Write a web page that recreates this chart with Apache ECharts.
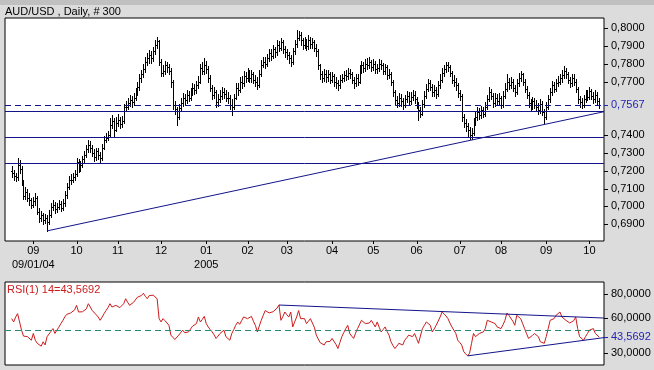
<!DOCTYPE html>
<html><head><meta charset="utf-8">
<script src="https://cdn.jsdelivr.net/npm/echarts@6/dist/echarts.min.js"></script>
<style>html,body{margin:0;padding:0;background:#dcdcdc;overflow:hidden}#c{width:654px;height:370px}</style>
</head><body><div id="c"></div><script>
// ---- data (prices in pips, i.e. x 1/10000) ----
const openPips=[7200,7188,7172,7165,7235,7210,7137,7059,7082,7050,
7035,7008,7030,7048,6970,6936,6950,6925,6936,6913,
6950,6995,7010,6985,6997,7015,6990,7020,7064,7110,
7148,7150,7165,7180,7249,7215,7232,7265,7290,7320,
7345,7330,7300,7275,7310,7289,7270,7330,7373,7385,
7400,7455,7480,7430,7470,7485,7460,7478,7557,7560,
7580,7597,7585,7610,7640,7670,7720,7740,7770,7810,
7830,7850,7830,7870,7905,7925,7810,7750,7760,7790,
7780,7760,7700,7569,7545,7500,7550,7580,7608,7595,
7625,7610,7640,7664,7650,7680,7700,7776,7760,7793,
7770,7720,7664,7625,7640,7585,7600,7620,7641,7630,
7610,7608,7570,7560,7610,7664,7650,7700,7690,7730,
7720,7748,7720,7740,7710,7700,7681,7740,7793,7810,
7800,7830,7860,7845,7880,7865,7905,7890,7920,7880,
7865,7850,7830,7810,7870,7910,7944,7960,7930,7905,
7920,7900,7935,7910,7920,7890,7870,7790,7740,7720,
7745,7725,7740,7710,7730,7700,7690,7680,7710,7720,
7735,7730,7748,7740,7710,7690,7720,7700,7765,7790,
7775,7800,7793,7810,7780,7800,7770,7776,7800,7790,
7760,7780,7737,7745,7700,7640,7597,7580,7610,7590,
7570,7600,7620,7590,7613,7625,7600,7570,7540,7520,
7575,7620,7660,7690,7670,7640,7653,7630,7680,7710,
7748,7770,7793,7780,7750,7710,7700,7680,7636,7620,
7500,7470,7450,7428,7400,7410,7470,7500,7530,7510,
7540,7520,7560,7600,7641,7620,7580,7610,7590,7608,
7570,7620,7660,7697,7680,7700,7664,7640,7690,7720,
7740,7700,7660,7625,7580,7560,7590,7570,7557,7540,
7575,7530,7500,7560,7600,7640,7680,7660,7690,7700,
7720,7737,7760,7740,7710,7690,7720,7700,7660,7600,
7585,7570,7600,7630,7613,7645,7620,7600,7625,7590];
const highPips=[7225,7205,7190,7272,7262,7225,7150,7110,7100,7075,
7050,7055,7075,7060,6990,6975,6965,6960,6950,6980,
7020,7035,7025,7020,7035,7030,7040,7085,7130,7170,
7180,7190,7205,7270,7265,7255,7285,7310,7345,7375,
7365,7345,7320,7330,7330,7305,7350,7395,7410,7425,
7495,7515,7495,7500,7520,7500,7505,7575,7590,7605,
7625,7620,7635,7665,7695,7745,7765,7800,7835,7860,
7875,7870,7895,7930,7950,7935,7825,7795,7815,7810,
7800,7775,7710,7590,7560,7575,7610,7635,7630,7650,
7645,7665,7690,7685,7705,7730,7800,7810,7830,7815,
7785,7735,7680,7670,7655,7630,7650,7670,7665,7650,
7640,7625,7600,7630,7690,7690,7725,7730,7760,7755,
7775,7765,7765,7755,7735,7725,7765,7820,7840,7835,
7855,7885,7880,7905,7895,7930,7925,7945,7935,7900,
7880,7865,7850,7890,7935,7990,7985,7975,7945,7950,
7940,7960,7950,7945,7935,7910,7880,7800,7760,7770,
7765,7765,7755,7755,7745,7725,7710,7735,7745,7760,
7765,7775,7770,7755,7725,7745,7740,7790,7815,7810,
7825,7830,7835,7820,7825,7815,7800,7825,7820,7805,
7800,7790,7770,7755,7710,7655,7620,7635,7630,7610,
7625,7645,7640,7640,7650,7645,7615,7585,7560,7595,
7645,7685,7715,7710,7685,7680,7670,7705,7740,7775,
7795,7810,7810,7795,7760,7735,7720,7690,7655,7630,
7520,7490,7470,7445,7440,7495,7530,7555,7550,7565,
7560,7585,7625,7670,7660,7635,7635,7630,7635,7620,
7645,7690,7740,7720,7725,7715,7680,7715,7750,7760,
7750,7715,7675,7640,7600,7615,7610,7595,7580,7600,
7590,7545,7585,7625,7665,7705,7700,7715,7730,7745,
7765,7785,7775,7755,7725,7745,7740,7715,7670,7620,
7605,7625,7655,7650,7670,7660,7640,7650,7640,7610];
const lowPips=[7165,7150,7140,7150,7190,7120,7040,7040,7030,7010,
6990,6995,7010,6955,6915,6920,6900,6905,6865,6900,
6940,6980,6965,6970,6985,6975,6980,7005,7050,7095,
7125,7135,7150,7170,7195,7200,7220,7250,7275,7305,
7305,7280,7255,7260,7265,7250,7260,7320,7360,7370,
7390,7440,7390,7420,7450,7440,7445,7470,7535,7545,
7565,7560,7570,7595,7625,7655,7700,7725,7755,7795,
7805,7805,7815,7855,7890,7790,7730,7730,7745,7755,
7740,7670,7545,7520,7457,7490,7535,7565,7570,7580,
7590,7595,7625,7630,7635,7665,7690,7740,7745,7750,
7700,7645,7600,7605,7560,7565,7585,7600,7605,7590,
7580,7545,7513,7545,7600,7625,7640,7665,7675,7700,
7705,7700,7700,7690,7675,7660,7670,7730,7780,7775,
7785,7815,7820,7830,7840,7850,7870,7875,7860,7840,
7825,7805,7785,7800,7855,7895,7930,7905,7885,7890,
7875,7885,7890,7890,7870,7845,7770,7715,7695,7705,
7700,7705,7690,7695,7675,7665,7655,7665,7695,7705,
7710,7715,7720,7690,7665,7675,7680,7690,7750,7755,
7760,7770,7775,7760,7765,7750,7750,7760,7770,7740,
7745,7715,7720,7680,7620,7575,7560,7565,7565,7545,
7555,7585,7570,7575,7595,7580,7550,7485,7500,7510,
7560,7605,7645,7650,7620,7620,7610,7620,7665,7700,
7730,7755,7760,7730,7690,7675,7655,7615,7595,7480,
7445,7420,7395,7380,7380,7400,7455,7485,7490,7495,
7500,7505,7545,7590,7600,7560,7565,7570,7570,7550,
7555,7605,7645,7660,7665,7645,7620,7630,7675,7705,
7680,7640,7605,7560,7535,7545,7550,7535,7520,7525,
7510,7467,7490,7545,7585,7625,7640,7645,7675,7685,
7700,7720,7720,7690,7670,7675,7680,7640,7580,7560,
7550,7555,7585,7595,7600,7600,7580,7585,7570,7550];
const closePips=[7188,7172,7165,7235,7210,7137,7059,7082,7050,7035,
7008,7030,7048,6970,6936,6950,6925,6936,6913,6950,
6995,7010,6985,6997,7015,6990,7020,7064,7110,7148,
7150,7165,7180,7249,7215,7232,7265,7290,7320,7345,
7330,7300,7275,7310,7289,7270,7330,7373,7385,7400,
7455,7480,7430,7470,7485,7460,7478,7557,7560,7580,
7597,7585,7610,7640,7670,7720,7740,7770,7810,7830,
7850,7830,7870,7905,7925,7810,7750,7760,7790,7780,
7760,7700,7569,7545,7500,7550,7580,7608,7595,7625,
7610,7640,7664,7650,7680,7700,7776,7760,7793,7770,
7720,7664,7625,7640,7585,7600,7620,7641,7630,7610,
7608,7570,7560,7610,7664,7650,7700,7690,7730,7720,
7748,7720,7740,7710,7700,7681,7740,7793,7810,7800,
7830,7860,7845,7880,7865,7905,7890,7920,7880,7865,
7850,7830,7810,7870,7910,7944,7960,7930,7905,7920,
7900,7935,7910,7920,7890,7870,7790,7740,7720,7745,
7725,7740,7710,7730,7700,7690,7680,7710,7720,7735,
7730,7748,7740,7710,7690,7720,7700,7765,7790,7775,
7800,7793,7810,7780,7800,7770,7776,7800,7790,7760,
7780,7737,7745,7700,7640,7597,7580,7610,7590,7570,
7600,7620,7590,7613,7625,7600,7570,7540,7520,7575,
7620,7660,7690,7670,7640,7653,7630,7680,7710,7748,
7770,7793,7780,7750,7710,7700,7680,7636,7620,7500,
7470,7450,7428,7400,7410,7470,7500,7530,7510,7540,
7520,7560,7600,7641,7620,7580,7610,7590,7608,7570,
7620,7660,7697,7680,7700,7664,7640,7690,7720,7740,
7700,7660,7625,7580,7560,7590,7570,7557,7540,7575,
7530,7500,7560,7600,7640,7680,7660,7690,7700,7720,
7737,7760,7740,7710,7690,7720,7700,7660,7600,7585,
7570,7600,7630,7613,7645,7620,7600,7625,7590,7567];
const rsiValues=[59.2,56.4,60.5,63.4,62.0,49.5,44.5,45.2,44.0,43.0,
41.0,46.7,41.0,38.4,38.0,36.0,39.7,37.0,44.0,45.0,
48.5,50.8,46.7,49.5,52.0,55.0,57.5,60.6,62.8,63.0,
64.0,64.8,66.5,70.4,64.8,66.0,65.0,63.4,67.5,71.8,
69.0,66.0,64.8,62.5,60.6,57.8,60.5,63.4,66.0,68.5,
71.8,69.0,68.0,70.4,69.5,68.5,70.0,71.8,76.0,73.0,
70.4,71.8,73.0,74.5,77.3,78.0,78.7,80.6,78.0,76.0,
78.7,77.8,79.0,80.0,76.0,59.2,56.4,59.2,57.5,56.4,
53.6,45.3,43.5,41.6,40.3,45.3,44.0,49.5,47.3,48.5,
48.0,49.5,52.8,53.5,55.0,60.6,56.4,58.5,61.1,55.0,
52.2,50.0,48.0,45.5,42.5,44.5,46.7,48.0,49.5,44.0,
42.5,41.0,46.7,50.0,53.6,56.4,54.4,57.5,60.6,62.0,
59.2,60.0,61.1,57.0,53.6,48.0,53.0,57.8,62.0,66.0,
64.8,64.0,63.4,65.0,66.0,68.0,70.7,57.8,61.0,64.8,
62.5,60.6,64.8,52.2,56.5,60.6,66.0,59.2,60.0,59.2,
55.0,57.0,59.2,59.2,52.0,45.3,42.0,38.9,37.5,37.0,
39.7,41.0,40.0,42.5,41.0,37.5,34.0,39.0,44.0,47.5,
50.8,53.6,46.7,44.5,42.5,47.0,50.8,52.2,57.8,56.5,
55.0,53.6,55.5,57.8,55.0,52.2,56.4,52.0,48.0,50.0,
52.2,48.5,45.3,39.7,36.5,34.0,36.0,38.4,37.5,37.0,
41.0,43.0,45.3,44.5,44.0,46.7,42.5,38.4,39.7,50.8,
53.5,56.4,55.0,53.6,48.0,50.5,53.6,57.0,60.6,64.8,
63.4,61.5,59.2,55.5,52.2,49.5,46.7,41.0,39.0,37.0,
31.5,29.5,27.8,30.1,38.4,46.7,44.0,45.5,46.7,45.5,
48.0,50.8,57.8,58.5,56.4,55.5,55.0,52.2,52.0,50.8,
54.0,57.8,63.9,62.0,60.6,57.0,53.6,62.0,60.5,59.2,
55.0,50.8,46.5,42.5,42.5,45.0,46.7,45.5,44.0,39.7,
39.0,38.4,44.0,50.8,57.8,58.5,59.2,62.0,63.0,64.8,
60.6,59.5,57.8,56.4,55.5,55.0,57.5,60.6,50.8,44.0,
42.5,41.0,44.0,46.7,49.5,50.0,50.8,46.7,48.0,43.5692];
const priceTickValues=[0.69,0.70,0.71,0.72,0.73,0.74,0.77,0.78,0.79,0.80];
const lastPrice=0.7567;
const supportLevels=[0.7535,0.7388,0.7245];
const priceTrendLine=[[18,0.6863],[301.4,0.7531]];
const rsiTickValues=[30,60,80];
const lastRsi=43.5692;
const rsiMidLevel=50;
const rsiTrendHigh=[[136,70.7],[301.4,59.7]];
const rsiTrendLow=[[232,27.8],[301.4,43.2]];
const firstDate=[2004,7,17]; // 17 Aug 2004 (month 0-based)
// ---- derived ----
const X_MIN=-3.41, X_MAX=301.4;
const toPrice=v=>v/10000;
const dates=[];
{let d=new Date(Date.UTC(firstDate[0],firstDate[1],firstDate[2]));
 while(dates.length<closePips.length){const w=d.getUTCDay(); if(w!==0&&w!==6) dates.push(new Date(d)); d.setUTCDate(d.getUTCDate()+1);}}
const monthStarts=[];
for(let i=1;i<dates.length;i++){ if(dates[i].getUTCMonth()!==dates[i-1].getUTCMonth()) monthStarts.push(i); }
const p2=n=>String(n).padStart(2,'0');
const ohlc=closePips.map((c,i)=>[i,toPrice(openPips[i]),toPrice(highPips[i]),toPrice(lowPips[i]),toPrice(c)]);
const rsiData=rsiValues.map((v,i)=>[i,v]);
const priceLabelValues=priceTickValues.concat([lastPrice]);
const rsiLabelValues=rsiTickValues.concat([lastRsi]);
const fmt4=v=>Number(v).toFixed(4).replace('.',',');
const FONT='"Liberation Sans", Arial, sans-serif';
const NAVY='#14148a', BLUE='#2424b4', RED='#cc1c1c', TEAL='#2a8a76';

// crisp full-width horizontal level lines, placed through the axis scale
const levelSeries=(levels,xi,yi,color,dash)=>({type:'custom',xAxisIndex:xi,yAxisIndex:yi,
  data:levels.map(v=>[0,v]),encode:{x:0,y:1},silent:true,clip:true,z:3,
  renderItem:(params,api)=>{
    const cs=params.coordSys; const y=Math.round(api.coord([0,api.value(1)])[1])+0.5;
    return {type:'line',shape:{x1:cs.x,y1:y,x2:cs.x+cs.width,y2:y},
      style:{stroke:color,lineWidth:1,lineDash:dash||null}};
  }});

const chart=echarts.init(document.getElementById('c'),null,{renderer:'canvas',width:654,height:370});
const xCommon={type:'value',min:X_MIN,max:X_MAX,splitLine:{show:false}};
const series=[
  {type:'custom',xAxisIndex:0,yAxisIndex:0,data:ohlc,encode:{x:0,y:[1,2,3,4]},clip:true,silent:true,z:2,
    renderItem:(params,api)=>{
      const i=api.value(0);
      const ph=api.coord([i,api.value(2)]),pl=api.coord([i,api.value(3)]);
      const po=api.coord([i,api.value(1)]),pc=api.coord([i,api.value(4)]);
      const x=Math.round(ph[0])+0.5;
      const yo=Math.round(po[1])+0.5, yc=Math.round(pc[1])+0.5;
      const st={stroke:'#000',lineWidth:1};
      return {type:'group',children:[
        {type:'line',shape:{x1:x,y1:Math.round(ph[1]),x2:x,y2:Math.round(pl[1])+1},style:st},
        {type:'line',shape:{x1:x-1.5,y1:yo,x2:x,y2:yo},style:st},
        {type:'line',shape:{x1:x,y1:yc,x2:x+1.5,y2:yc},style:st}
      ]};
    }},
  {type:'line',xAxisIndex:0,yAxisIndex:0,data:priceTrendLine,showSymbol:false,symbol:'none',silent:true,
    lineStyle:{color:NAVY,width:1},clip:true,z:3},
  {type:'line',xAxisIndex:1,yAxisIndex:1,data:rsiData,showSymbol:false,symbol:'none',silent:true,
    lineStyle:{color:RED,width:1},clip:true,z:2},
  {type:'line',xAxisIndex:1,yAxisIndex:1,data:rsiTrendHigh,showSymbol:false,symbol:'none',silent:true,
    lineStyle:{color:NAVY,width:1},clip:true,z:3},
  {type:'line',xAxisIndex:1,yAxisIndex:1,data:rsiTrendLow,showSymbol:false,symbol:'none',silent:true,
    lineStyle:{color:NAVY,width:1},clip:true,z:3},
  levelSeries(supportLevels,0,0,NAVY),
  levelSeries([lastPrice],0,0,NAVY,[6,4]),
  levelSeries([rsiMidLevel],1,1,TEAL,[6,4])
];

chart.setOption({
  animation:false,
  backgroundColor:'#dcdcdc',
  textStyle:{fontFamily:FONT},
  title:[
    {text:'AUD/USD , Daily, # 300',left:5,top:6,padding:0,textStyle:{fontFamily:FONT,fontSize:11,fontWeight:'normal',color:'#000'}},
    {text:'RSI(1) 14='+fmt4(lastRsi),left:7,top:284,padding:0,textStyle:{fontFamily:FONT,fontSize:11,fontWeight:'normal',color:RED}}
  ],
  grid:[
    {left:5,top:18,width:599,height:223,show:true,backgroundColor:'#fff',borderColor:'#000',borderWidth:1,containLabel:false,outerBoundsMode:'none'},
    {left:5,top:282,width:599,height:83,show:true,backgroundColor:'#fff',borderColor:'#000',borderWidth:1,containLabel:false,outerBoundsMode:'none'}
  ],
  xAxis:[
    Object.assign({gridIndex:0,axisLine:{show:false,onZero:false},axisTick:{show:false},
      axisLabel:{show:true,customValues:monthStarts,margin:3,fontSize:11,lineHeight:14,color:'#000',fontFamily:FONT,
        formatter:v=>{const i=Math.round(v);const d=dates[i];const mm=p2(d.getUTCMonth()+1);
          if(i===monthStarts[0]) return mm+'\n'+mm+'/'+p2(d.getUTCDate())+'/'+p2(d.getUTCFullYear()%100);
          if(d.getUTCMonth()===0) return mm+'\n'+d.getUTCFullYear();
          return mm;}}},xCommon),
    Object.assign({gridIndex:1,axisLine:{show:false,onZero:false},axisTick:{show:false},axisLabel:{show:false}},xCommon)
  ],
  yAxis:[
    {gridIndex:0,type:'value',position:'right',min:0.68064,max:0.8056,splitLine:{show:false},
      axisLine:{show:false,onZero:false},axisTick:{show:false},
      axisLabel:{show:true,customValues:priceLabelValues,margin:7,fontSize:11,fontFamily:FONT,
        formatter:v=>fmt4(v),color:v=>Math.abs(Number(v)-lastPrice)<1e-6?BLUE:'#000'}},
    {gridIndex:1,type:'value',position:'right',min:20.1,max:90.1,splitLine:{show:false},
      axisLine:{show:false,onZero:false},axisTick:{show:false},
      axisLabel:{show:true,customValues:rsiLabelValues,margin:7,fontSize:11,fontFamily:FONT,
        formatter:v=>fmt4(v),color:v=>Math.abs(Number(v)-lastRsi)<1e-6?BLUE:'#000'}}
  ],
  series:series
});

// tick marks placed through the chart's own scales (convertToPixel)
const tickEls=[{type:'rect',shape:{x:0,y:0,width:654,height:5},style:{fill:'#c0c0c0'},z:-10,silent:true}];
const gridRight=5+599, priceBottom=18+223;
priceLabelValues.forEach(v=>{
  const y=Math.round(chart.convertToPixel({yAxisIndex:0},v))+0.5;
  tickEls.push({type:'line',silent:true,z:100,shape:{x1:gridRight,y1:y,x2:gridRight+4,y2:y},
    style:{stroke:Math.abs(v-lastPrice)<1e-6?BLUE:'#000',lineWidth:1}});
});
rsiLabelValues.forEach(v=>{
  const y=Math.round(chart.convertToPixel({yAxisIndex:1},v))+0.5;
  tickEls.push({type:'line',silent:true,z:100,shape:{x1:gridRight,y1:y,x2:gridRight+4,y2:y},
    style:{stroke:Math.abs(v-lastRsi)<1e-6?BLUE:'#000',lineWidth:1}});
});
monthStarts.forEach(i=>{
  const x=Math.round(chart.convertToPixel({xAxisIndex:0},i))+0.5;
  tickEls.push({type:'line',silent:true,z:100,shape:{x1:x,y1:priceBottom,x2:x,y2:priceBottom+3},
    style:{stroke:'#000',lineWidth:1}});
});
chart.setOption({graphic:tickEls});
</script></body></html>
